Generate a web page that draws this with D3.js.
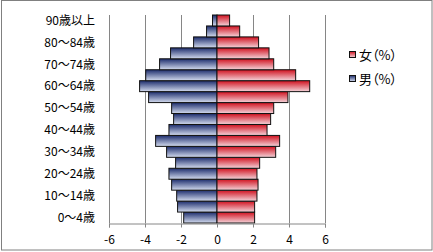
<!DOCTYPE html>
<html><head><meta charset="utf-8">
<script src="https://cdn.jsdelivr.net/npm/d3@7"></script>
<style>
html,body{margin:0;padding:0;background:#fff;}
svg{display:block;}
text{font-family:"Noto Sans CJK JP","MS PGothic",sans-serif;}
.lgt{font-feature-settings:"palt";}
</style></head>
<body>
<svg id="c" width="433" height="252"></svg>
<script>
const ages = ["0～4歳","5～9歳","10～14歳","15～19歳","20～24歳","25～29歳","30～34歳","35～39歳","40～44歳","45～49歳","50～54歳","55～59歳","60～64歳","65～69歳","70～74歳","75～79歳","80～84歳","85～89歳","90歳以上"];
const male = [-1.85,-2.19,-2.24,-2.52,-2.67,-2.3,-2.8,-3.41,-2.67,-2.41,-2.52,-3.8,-4.3,-3.96,-3.19,-2.58,-1.3,-0.58,-0.25];
const female = [2.09,2.09,2.22,2.28,2.22,2.37,3.26,3.48,2.78,2.98,3.15,3.94,5.15,4.37,3.15,2.89,2.31,1.26,0.70];
const xTicks = [-6,-4,-2,0,2,4,6];
const seriesNames = ["女（%）","男（%）"];

const svg = d3.select("#c");
const defs = svg.append("defs");
function grad(id, c1, c2){
  const g = defs.append("linearGradient").attr("id",id).attr("x1",0).attr("y1",0).attr("x2",0).attr("y2",1);
  g.append("stop").attr("offset","0%").attr("stop-color",c1);
  g.append("stop").attr("offset","100%").attr("stop-color",c2);
}
grad("gBlue","#1c2c6c","#d4dcef");
grad("gRed","#d0101e","#f4d4da");

// outer border
svg.append("rect").attr("x",1.5).attr("y",0.5).attr("width",430.5).attr("height",249.5)
  .attr("fill","#fff").attr("stroke","#808080").attr("stroke-width",1);

const x = d3.scaleLinear().domain([-6,6]).range([109,325]);
const y = d3.scaleBand().domain(ages.slice().reverse()).range([15,223]).padding(0);

// gridlines
svg.append("g").selectAll("line").data(xTicks).join("line")
  .attr("x1",d=>Math.round(x(d))+0.5).attr("x2",d=>Math.round(x(d))+0.5)
  .attr("y1",15).attr("y2",223)
  .attr("stroke","#868686").attr("stroke-width",1);

// bars
const gb = svg.append("g");
gb.selectAll("rect.m").data(ages).join("rect").attr("class","m")
  .attr("x",(d,i)=>x(male[i])).attr("width",(d,i)=>x(0)-x(male[i]))
  .attr("y",d=>y(d)).attr("height",y.bandwidth())
  .attr("fill","url(#gBlue)").attr("stroke","#111").attr("stroke-width",1);
gb.selectAll("rect.f").data(ages).join("rect").attr("class","f")
  .attr("x",x(0)).attr("width",(d,i)=>x(female[i])-x(0))
  .attr("y",d=>y(d)).attr("height",y.bandwidth())
  .attr("fill","url(#gRed)").attr("stroke","#111").attr("stroke-width",1);

// x axis
const xa = svg.append("g").attr("transform","translate(0,223.5)")
  .call(d3.axisBottom(x).tickValues(xTicks).tickSize(4).tickPadding(8).tickFormat(d=>String(d)));
xa.select(".domain").attr("stroke","#868686");
xa.selectAll(".tick line").attr("stroke","#868686");
xa.selectAll("text").attr("font-size",12).attr("fill","#000");

// y axis line
svg.append("line").attr("x1",109.5).attr("x2",109.5).attr("y1",15).attr("y2",223.5).attr("stroke","#868686");

// y labels (every other)
svg.append("g").selectAll("text").data(ages.filter((d,i)=>i%2===0)).join("text")
  .attr("x",95).attr("y",d=>y(d)+y.bandwidth()/2).attr("dy","0.36em")
  .attr("text-anchor","end").attr("font-size",12).attr("fill","#000").text(d=>d);

// legend
const lg = svg.append("g");
const lgFill = ["url(#gRed)","url(#gBlue)"];
seriesNames.forEach((n,i)=>{
  const yy = 55 + i*24;
  lg.append("rect").attr("x",349.5).attr("y",yy-3.5).attr("width",6).attr("height",6)
    .attr("fill",lgFill[i]).attr("stroke","#111");
  lg.append("text").attr("class","lgt").attr("x",359).attr("y",yy).attr("dy","0.36em").attr("font-size",13).attr("fill","#000").text(n);
});
</script>
</body></html>
